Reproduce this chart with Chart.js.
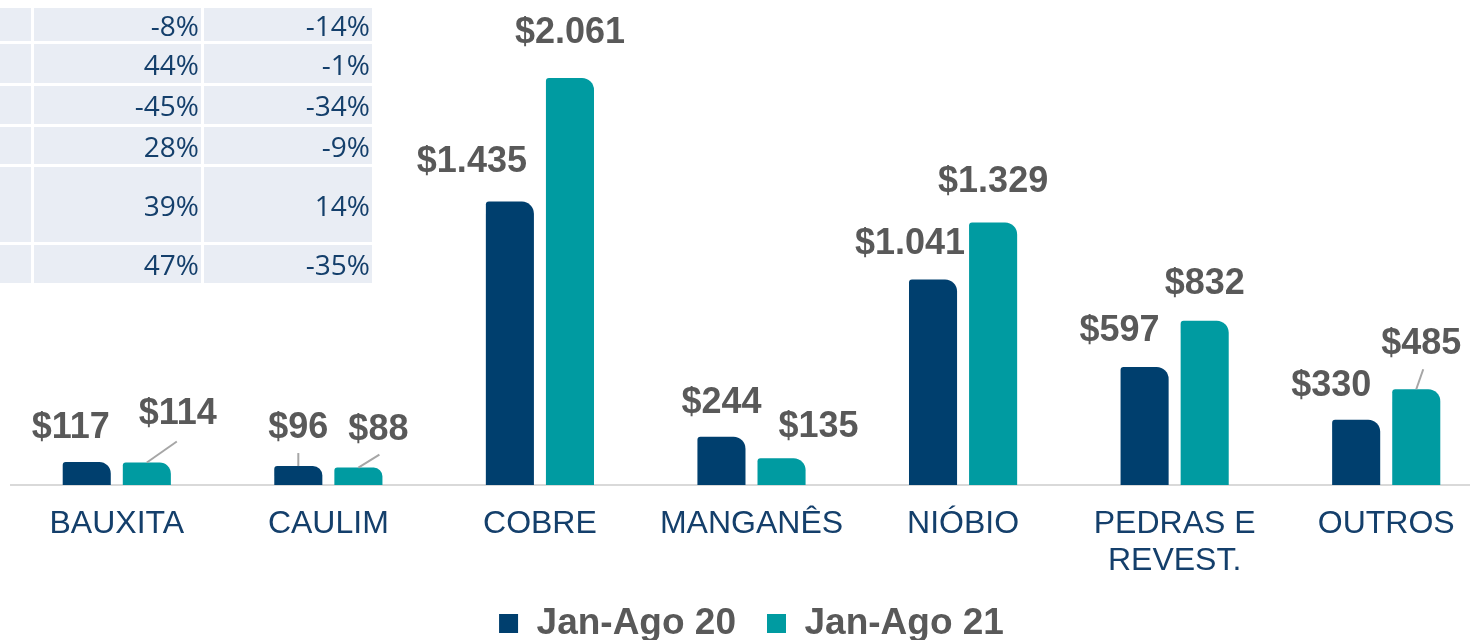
<!DOCTYPE html>
<html lang="pt">
<head>
<meta charset="UTF-8">
<title>Jan-Ago 20 x Jan-Ago 21</title>
<style>
  html, body { margin: 0; padding: 0; background: #fff; overflow: hidden; }
  #wrap { position: relative; width: 1492px; height: 640px; overflow: hidden; }
  #tabela {
    position: absolute; left: -6px; top: 5px; z-index: 2;
    border-collapse: separate; border-spacing: 3px;
    font-family: "Open Sans", sans-serif; font-size: 28px; line-height: 1; color: #143f6b;
  }
  #tabela td { background: #e9edf4; text-align: right; padding: 0 2px 0 0; vertical-align: middle; }
</style>
</head>
<body>
<div id="wrap">
  <table id="tabela"></table>
  <canvas id="grafico" width="1492" height="652"></canvas>
</div>

<script src="https://cdn.jsdelivr.net/npm/chart.js@4.4.1/dist/chart.umd.min.js"></script>
<script>
const categorias = ['BAUXITA', 'CAULIM', 'COBRE', 'MANGANÊS', 'NIÓBIO', ['PEDRAS E', 'REVEST.'], 'OUTROS']
const series = ['Jan-Ago 20', 'Jan-Ago 21']
const valores20 = [117, 96, 1435, 244, 1041, 597, 330]
const valores21 = [114, 88, 2061, 135, 1329, 832, 485]
const var20 = ['-8%', '44%', '-45%', '28%', '39%', '47%']
const var21 = ['-14%', '-1%', '-34%', '-9%', '14%', '-35%']

// table in the top-left corner (cut off in the original slide)
const alturas = [33, 39, 38, 37, 75, 38]
const tabela = document.getElementById('tabela')
var20.forEach((v, i) => {
  const tr = document.createElement('tr')
  ;['', v, var21[i]].forEach((t, j) => {
    const td = document.createElement('td')
    td.textContent = t
    td.style.width = [32, 165, 166][j] + 'px'
    td.style.height = alturas[i] + 'px'
    tr.appendChild(td)
  })
  tabela.appendChild(tr)
})

function moeda(v) {
  return '$' + String(v).replace(/\B(?=(\d{3})+(?!\d))/g, '.')
}

// data labels, nudged by hand like in the slide; some have a leader line
const rotulos = {
  id: 'rotulos',
  afterDatasetsDraw(chart, args, opts) {
    const ctx = chart.ctx
    ctx.save()
    ctx.font = 'bold 36px "Liberation Sans", Arial, sans-serif'
    ctx.fillStyle = '#595959'
    ctx.textAlign = 'center'
    ctx.textBaseline = 'middle'
    chart.data.datasets.forEach((ds, d) => {
      chart.getDatasetMeta(d).data.forEach((bar, i) => {
        const off = opts.offsets[d][i]
        const x = bar.x + off[0], y = bar.y + off[1]
        if (off[2]) {
          ctx.strokeStyle = '#a6a6a6'
          ctx.lineWidth = 2
          ctx.beginPath()
          ctx.moveTo(bar.x, bar.y)
          ctx.lineTo(bar.x + off[2][0], bar.y + off[2][1])
          ctx.stroke()
        }
        ctx.fillText(moeda(ds.data[i]), x, y)
      })
    })
    ctx.restore()
  }
}

const raio = { topLeft: 3, topRight: 12, bottomLeft: 0, bottomRight: 0 }

new Chart(document.getElementById('grafico'), {
  type: 'bar',
  data: {
    labels: categorias,
    datasets: [
      { label: series[0], data: valores20, backgroundColor: '#003f6e', borderRadius: raio, borderSkipped: 'start' },
      { label: series[1], data: valores21, backgroundColor: '#009ba1', borderRadius: raio, borderSkipped: 'start' }
    ]
  },
  options: {
    responsive: false,
    animation: false,
    categoryPercentage: 0.568,
    barPercentage: 0.8,
    layout: { padding: { left: 11, right: 0, top: 0, bottom: 0 } },
    scales: {
      y: { display: false, min: 0, max: 2456 },
      x: {
        grid: { display: false },
        border: { display: true, color: '#d9d9d9', width: 2 },
        ticks: {
          color: '#143f6b',
          font: { family: '"Liberation Sans", Arial, sans-serif', size: 32, lineHeight: 1.15 },
          padding: 13,
          maxRotation: 0,
          autoSkip: false
        },
        afterFit(s) { s.height = 89 }
      }
    },
    plugins: {
      tooltip: { enabled: false },
      legend: {
        position: 'bottom',
        labels: {
          boxWidth: 19, boxHeight: 19, padding: 31,
          color: '#595959',
          font: { family: '"Liberation Sans", Arial, sans-serif', size: 37, weight: 'bold' }
        }
      },
      rotulos: {
        offsets: [
          [[-16, -34], [0, -38, [0, -13]], [-38, -40], [0, -34], [-23, -35], [-25, -36], [-25, -34]],
          [[31, -48, [30, -21]], [20, -38, [21, -13]], [0, -45], [37, -31], [0, -40], [0, -37], [5, -45, [7, -20]]]
        ]
      }
    }
  },
  plugins: [rotulos]
})
</script>
</body>
</html>
